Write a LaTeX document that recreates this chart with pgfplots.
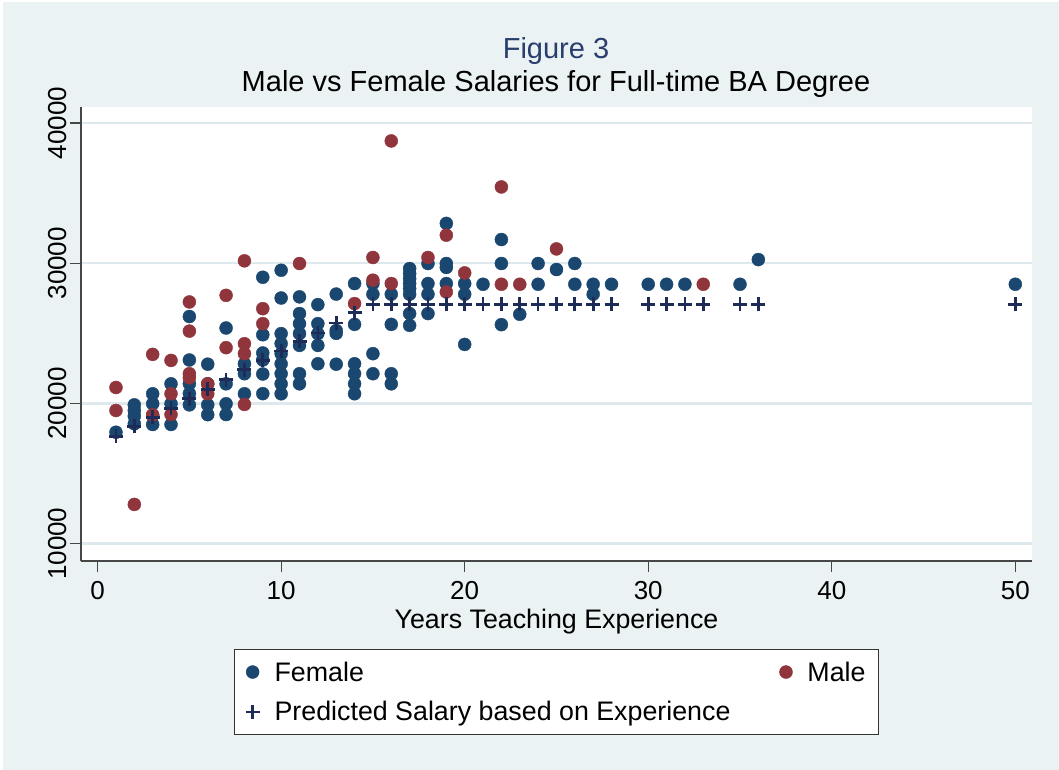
\documentclass[border=0pt]{standalone}
\usepackage{fontspec}
\setmainfont{Liberation Sans}
\usepackage{pgfplots}
\pgfplotsset{compat=1.18}
\definecolor{bgc}{RGB}{234,242,243}
\definecolor{gridc}{RGB}{222,233,237}
\definecolor{fem}{RGB}{26,71,111}
\definecolor{mal}{RGB}{144,53,59}
\definecolor{pre}{RGB}{30,43,87}
\definecolor{titc}{RGB}{42,62,110}
\pgfplotsset{mylegimg/.style={legend image code/.code={\draw[##1] plot coordinates {(0pt,0pt)};}}}
\begin{document}
\begin{tikzpicture}[x=1pt,y=1pt]
\fill[white] (0,0) rectangle (1059,770);
\fill[bgc] (3,0) rectangle (1059,768);
\useasboundingbox (0,0) rectangle (1059,770);
\node[anchor=base, text=titc, font=\fontsize{29}{34}\selectfont] at (556,711.7) {Figure 3};
\node[anchor=base, font=\fontsize{29}{34}\selectfont] at (556,678.3) {Male vs Female Salaries for Full-time BA Degree};
\begin{axis}[
  at={(81pt,209pt)}, anchor=south west,
  scale only axis, width=951pt, height=454pt,
  xmin=-0.905, xmax=50.91, ymin=8766, ymax=41141,
  axis background/.style={fill=white},
  axis x line*=bottom, axis y line*=left,
  axis line style={-, draw=black!72, line width=1.5pt},
  xtick={0,10,20,30,40,50}, ytick={10000,20000,30000,40000},
  tick align=outside, major tick length=11pt,
  tick style={line width=1.2pt, draw=black!72},
  ymajorgrids, grid style={line width=2.5pt, draw=gridc},
  scaled y ticks=false,
  /pgf/number format/assume math mode=true,
  yticklabel style={/pgf/number format/set thousands separator={}, rotate=90, anchor=south, font=\fontsize{26}{30}\selectfont},
  xticklabel style={font=\fontsize{26}{30}\selectfont, yshift=-6pt},
  xlabel={Years Teaching Experience},
  xlabel style={font=\fontsize{26.8}{31}\selectfont, yshift=-2pt},
  legend columns=2,
  legend cell align=left,
  legend style={at={(axis description cs:0.1609,-0.1938)}, anchor=north west,
    draw=black!80, line width=1.2pt, fill=white,
    font=\fontsize{26.8}{31}\selectfont,
    inner xsep=11pt, inner ysep=10pt, row sep=15pt,
    /tikz/every odd column/.append style={column sep=13pt},
    /tikz/every even column/.append style={column sep=47pt}},
]
\addplot[only marks, mark=*, mark size=6.5pt, mark options={fill=fem, draw=fem, line width=0.4pt}, mylegimg] coordinates {
(1,17950)
(2,19900)(2,19500)(2,19100)(2,18550)
(3,20690)(3,19980)(3,19140)(3,18500)
(4,21400)(4,19980)(4,18500)
(5,26200)(5,23100)(5,21400)(5,20700)(5,19900)
(6,22800)(6,21400)(6,19900)(6,19200)
(7,25380)(7,21400)(7,19980)(7,19210)
(8,22830)(8,22120)(8,20690)
(9,29000)(9,24900)(9,23600)(9,23100)(9,22100)(9,20700)
(10,29500)(10,27520)(10,24980)(10,24270)(10,23550)(10,22830)(10,22120)(10,21400)(10,20690)
(11,27600)(11,26410)(11,25690)(11,24980)(11,24140)(11,22120)(11,21400)
(12,27050)(12,25690)(12,24980)(12,24140)(12,22830)
(13,27800)(13,25200)(13,25000)(13,22800)
(14,28550)(14,25640)(14,22830)(14,22120)(14,21400)(14,20690)
(15,28550)(15,27790)(15,23550)(15,22120)
(16,27790)(16,25640)(16,22120)(16,21400)
(17,29620)(17,29260)(17,28900)(17,28550)(17,28190)(17,27790)(17,26410)(17,25570)
(18,29980)(18,28550)(18,27790)(18,26410)
(19,32840)(19,29980)(19,29700)(19,28550)
(20,28550)(20,27790)(20,24210)
(21,28500)
(22,31690)(22,29980)(22,25620)
(23,26360)
(24,29980)(24,28500)
(25,29550)
(26,29980)(26,28500)
(27,28500)(27,27790)
(28,28500)
(30,28500)(31,28500)(32,28500)(35,28500)(36,30260)(50,28500)
};
\addlegendentry{Female}
\addplot[only marks, mark=*, mark size=6.5pt, mark options={fill=mal, draw=mal, line width=0.4pt}, mylegimg] coordinates {
(1,21140)(1,19500)
(2,12800)
(3,23500)(3,19190)
(4,23070)(4,20690)(4,19210)
(5,27240)(5,25160)(5,22120)(5,21830)
(6,21400)(6,20690)
(7,27710)(7,23980)
(8,30170)(8,24260)(8,23550)(8,19930)
(9,26760)(9,25690)
(11,29980)
(14,27120)
(15,30410)(15,28790)
(16,38720)(16,28550)
(18,30410)
(19,32000)(19,27950)
(20,29310)
(22,35440)(22,28500)
(23,28500)
(25,31020)
(33,28500)
};
\addlegendentry{Male}
\addplot[only marks, mark=+, mark size=7pt, mark options={draw=pre, line width=2.7pt}, mylegimg] coordinates {
(1,17660)(2,18360)(3,19020)(4,19660)(5,20330)(6,21000)(7,21690)(8,22400)
(9,23070)(10,23750)(11,24430)(12,25020)(13,25740)(14,26480)
(15,27070)(16,27070)(17,27070)(18,27070)(19,27070)(20,27070)(21,27070)
(22,27070)(23,27070)(24,27070)(25,27070)(26,27070)(27,27070)(28,27070)
(30,27070)(31,27070)(32,27070)(33,27070)(35,27070)(36,27070)(50,27070)
};
\addlegendentry{Predicted Salary based on Experience}
\end{axis}
\end{tikzpicture}
\end{document}
